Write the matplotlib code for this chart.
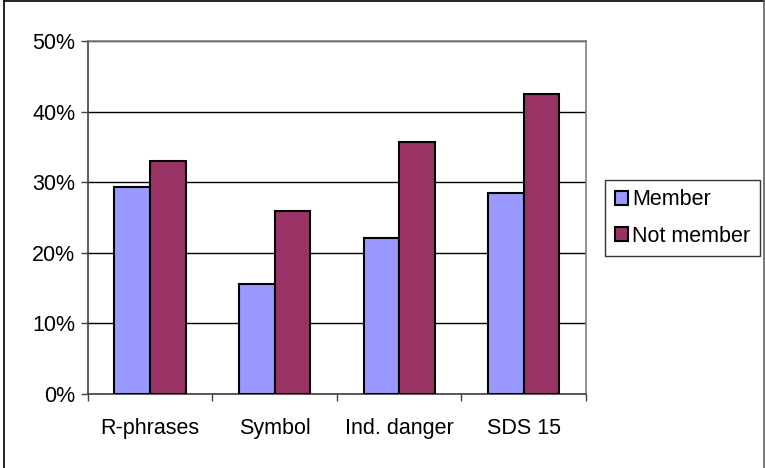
import matplotlib
matplotlib.use("Agg")
import matplotlib.pyplot as plt
import numpy as np
from matplotlib.lines import Line2D
from matplotlib.ticker import FuncFormatter

# data
categories = ["R-phrases", "Symbol", "Ind. danger", "SDS 15"]
member = [29.3, 15.6, 22.1, 28.4]
not_member = [33.0, 25.9, 35.7, 42.5]
series_names = ["Member", "Not member"]
yticks = [0, 10, 20, 30, 40, 50]

plt.rcParams['font.family'] = ['Liberation Sans', 'DejaVu Sans']

W, H = 765, 468
fs = 15.5
fig = plt.figure(figsize=(W / 100, H / 100), dpi=100)
ax = fig.add_axes([87.7 / W, 1 - 394 / H, (586 - 87.7) / W, (394 - 41) / H])

x = np.arange(len(categories))
bw = 0.2857
ax.bar(x - bw / 2, member, bw, color="#9999FF", edgecolor="black", linewidth=1.5,
       label=series_names[0], zorder=3)
ax.bar(x + bw / 2, not_member, bw, color="#993366", edgecolor="black", linewidth=1.5,
       label=series_names[1], zorder=3)

ax.set_xlim(-0.5, len(categories) - 0.5)
ax.set_ylim(0, 50)
ax.set_yticks(yticks)
ax.yaxis.set_major_formatter(FuncFormatter(lambda v, p: "%d%%" % v))
ax.yaxis.grid(True, color="black", linewidth=1, zorder=0)
ax.set_axisbelow(True)

ax.set_xticks(x)
ax.set_xticklabels(categories)
ax.set_xticks(np.arange(len(categories) + 1) - 0.5, minor=True)
ax.tick_params(axis="x", which="major", length=0, pad=17, labelsize=fs)
ax.tick_params(axis="x", which="minor", length=5, color="#404040", width=1)
ax.tick_params(axis="y", length=5, color="#404040", width=1, labelsize=fs, pad=4)

for s in ["top", "right"]:
    ax.spines[s].set_color("#808080")
    ax.spines[s].set_linewidth(1.2)
for s in ["left", "bottom"]:
    ax.spines[s].set_color("#404040")
    ax.spines[s].set_linewidth(1.2)

leg = ax.legend(loc="center", bbox_to_anchor=((607.7 + 757) / 2 / W, 1 - (179 + 257) / 2 / H),
                bbox_transform=fig.transFigure, fontsize=fs, frameon=True,
                fancybox=False, edgecolor="black", handlelength=0.6, handleheight=0.6,
                handletextpad=0.2, borderpad=0.45, labelspacing=0.7, borderaxespad=0)
leg.get_frame().set_linewidth(1)

# outer chart border (left, top, right; bottom is cut off)
fig.add_artist(Line2D([4 / W, 4 / W], [0, 1 - 1 / H], transform=fig.transFigure, color="black", linewidth=1.2))
fig.add_artist(Line2D([4 / W, 764 / W], [1 - 1 / H, 1 - 1 / H], transform=fig.transFigure, color="black", linewidth=1.2))
fig.add_artist(Line2D([764 / W, 764 / W], [0, 1 - 1 / H], transform=fig.transFigure, color="#606060", linewidth=1.2))

fig.savefig("out.png", dpi=100)
